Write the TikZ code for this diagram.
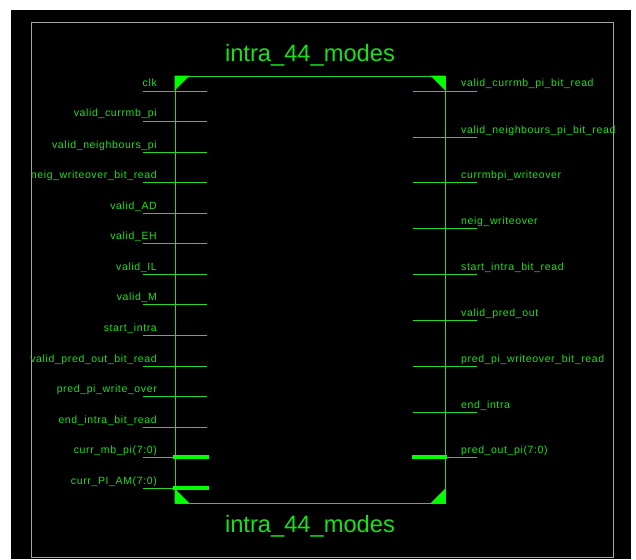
\documentclass[tikz,border=0pt]{standalone}
\usepackage{fontspec}
\setmainfont{Liberation Sans}
\newfontfamily\pinfont[LetterSpace=6]{Liberation Sans}
\definecolor{schgreen}{RGB}{40,215,40}
\definecolor{txtgreen}{RGB}{25,225,25}
\definecolor{fillgreen}{RGB}{0,255,0}
\definecolor{framegray}{RGB}{165,165,165}

\begin{document}
\begin{tikzpicture}[x=1pt,y=-1pt,
	pin/.style={draw=schgreen, line width=0.9pt},
	bus/.style={draw=fillgreen, line width=4pt},
	lbl/.style={text=txtgreen, font=\pinfont\fontsize{10.5}{12}\selectfont, inner sep=0pt},
	lpin/.style={lbl, anchor=base east},
	rpin/.style={lbl, anchor=base west},
	title/.style={text=txtgreen, font=\fontsize{23.7}{28}\selectfont, inner sep=0pt, anchor=base},
	corner/.style={fill=fillgreen}]
	
	% Background and frame
	\useasboundingbox (0,0) rectangle (636,559);
	\fill[white] (0,0) rectangle (636,559);
	\fill[black] (11,10) rectangle (631,559);
	\draw[framegray, line width=0.8pt] (31,22) rectangle (613,557);
	
	% Define block
	\node [draw=schgreen, line width=0.9pt, minimum width=270pt, minimum height=427pt, inner sep=0pt] (box) at (310,289.5) {};
	\fill[corner] (box.north west) -- ++(15,0) -- ++(-15,15) -- cycle;
	\fill[corner] (box.north east) -- ++(-15,0) -- ++(15,15) -- cycle;
	\fill[corner] (box.south west) -- ++(15,0) -- ++(-15,-15) -- cycle;
	\fill[corner] (box.south east) -- ++(-15,0) -- ++(15,-15) -- cycle;
	\node [title] (toptitle) at (310,62) {intra\_44\_modes};
	\node [title] (bottitle) at (310,532) {intra\_44\_modes};
	
	% Input pins
	\node [lpin] (clk) at (157,87) {clk};
	\draw [pin] (143,91) -- (207,91);
	\node [lpin] (vcurr) at (157,117) {valid\_currmb\_pi};
	\draw [pin] (143,121) -- (207,121);
	\node [lpin] (vneigh) at (157,148) {valid\_neighbours\_pi};
	\draw [pin] (143,152) -- (207,152);
	\node [lpin] (neigbit) at (157,178) {neig\_writeover\_bit\_read};
	\draw [pin] (143,182) -- (207,182);
	\node [lpin] (vad) at (157,209) {valid\_AD};
	\draw [pin] (143,213) -- (207,213);
	\node [lpin] (veh) at (157,239) {valid\_EH};
	\draw [pin] (143,243) -- (207,243);
	\node [lpin] (vil) at (157,270) {valid\_IL};
	\draw [pin] (143,274) -- (207,274);
	\node [lpin] (vm) at (157,300) {valid\_M};
	\draw [pin] (143,304) -- (207,304);
	\node [lpin] (start) at (157,331) {start\_intra};
	\draw [pin] (143,335) -- (207,335);
	\node [lpin] (vpredbit) at (157,362) {valid\_pred\_out\_bit\_read};
	\draw [pin] (143,366) -- (207,366);
	\node [lpin] (predwo) at (157,392) {pred\_pi\_write\_over};
	\draw [pin] (143,396) -- (207,396);
	\node [lpin] (endbit) at (157,423) {end\_intra\_bit\_read};
	\draw [pin] (143,427) -- (207,427);
	\node [lpin] (currmb) at (157,453) {curr\_mb\_pi(7:0)};
	\draw [pin] (143,457) -- (175,457);
	\draw [bus] (173,457) -- (209,457);
	\node [lpin] (currpi) at (157,484) {curr\_PI\_AM(7:0)};
	\draw [pin] (143,488) -- (175,488);
	\draw [bus] (173,488) -- (209,488);
	
	% Output pins
	\node [rpin] (vcurrbit) at (461,87) {valid\_currmb\_pi\_bit\_read};
	\draw [pin] (413,91) -- (477,91);
	\node [rpin] (vneighbit) at (461,133) {valid\_neighbours\_pi\_bit\_read};
	\draw [pin] (413,137) -- (477,137);
	\node [rpin] (currwo) at (461,178) {currmbpi\_writeover};
	\draw [pin] (413,182) -- (477,182);
	\node [rpin] (neigwo) at (461,224) {neig\_writeover};
	\draw [pin] (413,228) -- (477,228);
	\node [rpin] (startbit) at (461,270) {start\_intra\_bit\_read};
	\draw [pin] (413,274) -- (477,274);
	\node [rpin] (vpred) at (461,316) {valid\_pred\_out};
	\draw [pin] (413,320) -- (477,320);
	\node [rpin] (predwobit) at (461,362) {pred\_pi\_writeover\_bit\_read};
	\draw [pin] (413,366) -- (477,366);
	\node [rpin] (endintra) at (461,408) {end\_intra};
	\draw [pin] (413,412) -- (477,412);
	\node [rpin] (predout) at (461,453) {pred\_out\_pi(7:0)};
	\draw [bus] (412,457) -- (447,457);
	\draw [pin] (445,457) -- (477,457);
\end{tikzpicture}
\end{document}
